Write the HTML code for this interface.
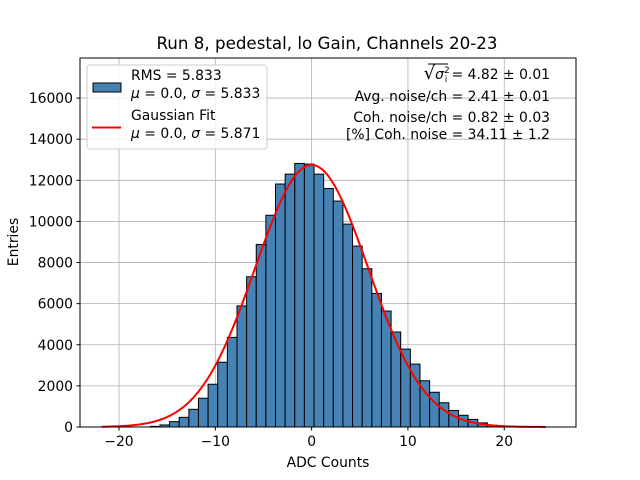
<!DOCTYPE html>
<html><head><meta charset="utf-8"><style>
body{margin:0;background:#fff}
svg{display:block;font-family:"DejaVu Sans","Liberation Sans",sans-serif}
</style></head><body>
<svg id="chart" width="640" height="480" viewBox="0 0 640 480">
<rect width="640" height="480" fill="#fff"/>
<g id="grid"></g>
<g id="bars"></g>
<path id="fit" fill="none" stroke="#ff0000" stroke-width="2"/>
<rect x="80" y="58" width="496" height="369" fill="none" stroke="#000" stroke-width="1"/>
<g id="ticks" font-size="13.9" fill="#000"></g>
<text x="327" y="49" text-anchor="middle" font-size="16.7">Run 8, pedestal, lo Gain, Channels 20-23</text>
<text x="328" y="467" text-anchor="middle" font-size="13.9">ADC Counts</text>
<text transform="translate(18,242) rotate(-90)" text-anchor="middle" font-size="13.9">Entries</text>
<g>
<rect x="87" y="65" width="180" height="84" rx="3" fill="#fff" fill-opacity="0.85" stroke="#ccc"/>
<rect x="93" y="83" width="28" height="9" fill="#4682b4" stroke="#000"/>
<line x1="92" y1="127.5" x2="121" y2="127.5" stroke="#f00" stroke-width="2"/>
<g font-size="13.9">
<text x="131" y="80">RMS = 5.833</text>
<text x="131" y="98"><tspan font-style="italic">μ</tspan> = 0.0, <tspan font-style="italic">σ</tspan> = 5.833</text>
<text x="131" y="120">Gaussian Fit</text>
<text x="131" y="138"><tspan font-style="italic">μ</tspan> = 0.0, <tspan font-style="italic">σ</tspan> = 5.871</text>
</g></g>
<g font-size="13.9" text-anchor="end">
<text x="550" y="79"><tspan font-size="18">√</tspan><tspan font-style="italic">σ</tspan><tspan font-size="9" dy="-6">2</tspan><tspan font-size="9" dy="9" dx="-5">i</tspan><tspan dy="-3"> = 4.82 ± 0.01</tspan></text>
<text x="550" y="101">Avg. noise/ch = 2.41 ± 0.01</text>
<text x="550" y="122">Coh. noise/ch = 0.82 ± 0.03</text>
<text x="550" y="139">[%] Coh. noise = 34.11 ± 1.2</text>
</g>
<line x1="428" y1="64" x2="448" y2="64" stroke="#000" stroke-width="1"/>
</svg>
<script>
const binStart = -16.75;
const binWidth = 1;
const counts = [30,100,260,470,860,1400,2080,3150,4360,5890,7310,8880,10300,11820,12300,12820,12790,12300,11600,10990,9870,8800,7700,6500,5640,4620,3790,3060,2250,1690,1180,800,570,370,200,80];
const fitMu = [0.0];
const fitSigma = [5.871];
const fitAmp = [12750];
const fitRange = [-21.8, 24.3];
const xTicks = [-20,-10,0,10,20];
const yTicks = [0,2000,4000,6000,8000,10000,12000,14000,16000];

const X0=80,X1=576,Y0=427,Y1=58;
const xmin=-24.05,xmax=27.45,ymin=0,ymax=17950;
const sx=v=>X0+(v-xmin)/(xmax-xmin)*(X1-X0);
const sy=v=>Y0-(v-ymin)/(ymax-ymin)*(Y0-Y1);
const NS='http://www.w3.org/2000/svg';
function mk(tag,attrs,parent){const e=document.createElementNS(NS,tag);for(const k in attrs)e.setAttribute(k,attrs[k]);parent.appendChild(e);return e;}

const grid=document.getElementById('grid'),ticks=document.getElementById('ticks');
xTicks.forEach(t=>{
  const g=mk('line',{x1:sx(t),x2:sx(t),y1:Y1,y2:Y0,stroke:'#b0b0b0','stroke-width':0.8},grid);
  
  
  const tk=mk('line',{x1:sx(t),x2:sx(t),y1:Y0,y2:Y0+3.5,stroke:'#000'},ticks);
  
  
  const lb=mk('text',{x:sx(t),y:Y0+19,'text-anchor':'middle'},ticks);lb.textContent=(t<0?'\u2212'+(-t):t);
  
  
});
yTicks.forEach(t=>{
  const g=mk('line',{x1:X0,x2:X1,y1:sy(t),y2:sy(t),stroke:'#b0b0b0','stroke-width':0.8},grid);
  
  
  const tk=mk('line',{x1:X0-3.5,x2:X0,y1:sy(t),y2:sy(t),stroke:'#000'},ticks);
  
  
  const lb=mk('text',{x:X0-7,y:sy(t)+5,'text-anchor':'end'},ticks);lb.textContent=t;
  
  
});
const bars=document.getElementById('bars');
counts.forEach((c,i)=>{
  const a=binStart+i*binWidth,b=a+binWidth;
  const r=mk('rect',{x:sx(a),y:sy(c),width:sx(b)-sx(a),height:sy(0)-sy(c),fill:'#4682b4',stroke:'#000','stroke-width':1},bars);
  
  
});
let d='';
const n=300;
for(let i=0;i<=n;i++){
  const x=fitRange[0]+(fitRange[1]-fitRange[0])*i/n;
  const y=fitAmp[0]*Math.exp(-0.5*Math.pow((x-fitMu[0])/fitSigma[0],2));
  d+=(i?'L':'M')+sx(x).toFixed(2)+','+sy(y).toFixed(2);
}
document.getElementById('fit').setAttribute('d',d);
</script>
</body></html>
